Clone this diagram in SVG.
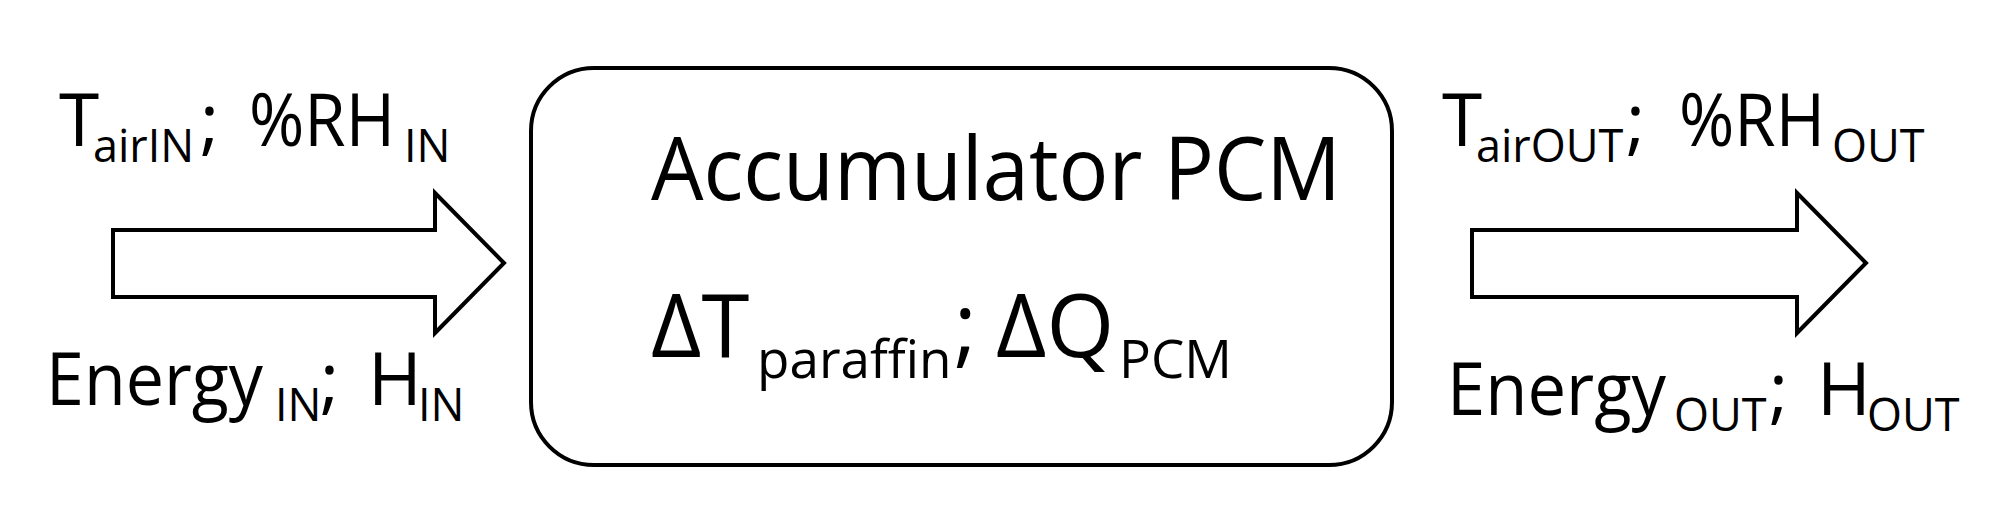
<svg xmlns="http://www.w3.org/2000/svg" width="1999" height="516" viewBox="0 0 1999 516">
<style>
text{font-family:"Open Sans","Noto Sans","DejaVu Sans",sans-serif;fill:#000}
.m{font-size:73px}
.s{font-size:45px}
.M{font-size:87px}
.S{font-size:53px}
.shape{fill:#fff;stroke:#000;stroke-width:4;stroke-linejoin:miter}
</style>
<rect width="1999" height="516" fill="#fff"/>
<g id="connectors">
<polygon id="arrow-in" class="shape" points="113,230 435,230 435,193 504,263 435,333 435,297 113,297"/>
<polygon id="arrow-out" class="shape" points="1472,230 1797,230 1797,193 1866,263 1797,333 1797,297 1472,297"/>
</g>
<g id="node-input">
<text><tspan class="m" x="59" y="146">T</tspan><tspan class="s" x="93" y="162">airIN</tspan><tspan class="m" x="200" y="146">; </tspan><tspan class="m" x="249" y="146" textLength="146" lengthAdjust="spacingAndGlyphs">%RH</tspan><tspan class="s" x="404" y="162">IN</tspan></text>
<text><tspan class="m" x="46" y="405" textLength="217" lengthAdjust="spacingAndGlyphs">Energy</tspan><tspan class="s" x="275" y="421">IN</tspan><tspan class="m" x="320" y="405">; </tspan><tspan class="m" x="368" y="405">H</tspan><tspan class="s" x="418" y="421">IN</tspan></text>
</g>
<g id="node-accumulator">
<rect class="shape" x="531" y="68" width="861" height="397" rx="63" ry="63"/>
<text><tspan class="M" x="651" y="200" textLength="690" lengthAdjust="spacingAndGlyphs">Accumulator PCM</tspan></text>
<text><tspan class="M" x="651" y="357">ΔT</tspan><tspan class="S" x="757" y="378">paraffin</tspan><tspan class="M" x="954" y="357">; </tspan><tspan class="M" x="996" y="357">ΔQ</tspan><tspan class="S" x="1119" y="378">PCM</tspan></text>
</g>
<g id="node-output">
<text><tspan class="m" x="1442" y="146">T</tspan><tspan class="s" x="1476" y="162">airOUT</tspan><tspan class="m" x="1626" y="146">; </tspan><tspan class="m" x="1679" y="146" textLength="146" lengthAdjust="spacingAndGlyphs">%RH</tspan><tspan class="s" x="1832" y="162">OUT</tspan></text>
<text><tspan class="m" x="1447" y="415" textLength="219" lengthAdjust="spacingAndGlyphs">Energy</tspan><tspan class="s" x="1674" y="431">OUT</tspan><tspan class="m" x="1769" y="415">; </tspan><tspan class="m" x="1817" y="415">H</tspan><tspan class="s" x="1867" y="431">OUT</tspan></text>
</g>
</svg>
